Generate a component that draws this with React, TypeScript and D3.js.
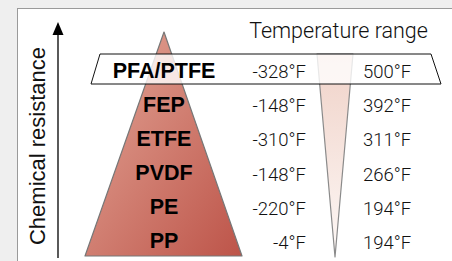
import { useEffect, useRef } from 'react';
import * as d3 from 'd3';

const polymers = ['PFA/PTFE', 'FEP', 'ETFE', 'PVDF', 'PE', 'PP'];
const lowTemps = [-328, -148, -310, -148, -220, -4];
const highTemps = [500, 392, 311, 266, 194, 194];
const axisTitle = 'Chemical resistance';
const tempTitle = 'Temperature range';

const W = 452;
const H = 261;
const SANS = '"Liberation Sans", Arial, sans-serif';
const LIGHT = 'Roboto, "Liberation Sans", sans-serif';

function App() {
  const svgRef = useRef<SVGSVGElement | null>(null);

  useEffect(() => {
    const svg = d3.select(svgRef.current);
    svg.selectAll('*').remove();

    const y = d3.scaleBand().domain(polymers).range([53, 258]);
    const x = d3.scaleLinear().domain([0, 1]).range([85, 242]); // pyramid base
    const top = y(polymers[0])!;
    const bottom = 256;

    const defs = svg.append('defs');
    const grad = defs
      .append('linearGradient')
      .attr('id', 'pyr')
      .attr('x1', '0%')
      .attr('y1', '0%')
      .attr('x2', '100%')
      .attr('y2', '100%');
    grad.append('stop').attr('offset', '0%').attr('stop-color', '#e4a899');
    grad.append('stop').attr('offset', '100%').attr('stop-color', '#bd5449');

    const tgrad = defs
      .append('linearGradient')
      .attr('id', 'temp')
      .attr('x1', '0%')
      .attr('y1', '0%')
      .attr('x2', '0%')
      .attr('y2', '100%');
    tgrad.append('stop').attr('offset', '0%').attr('stop-color', '#f0d2c8');
    tgrad.append('stop').attr('offset', '100%').attr('stop-color', '#fdf8f6');

    // background
    svg.append('rect').attr('width', W).attr('height', H).attr('fill', '#efefef');
    svg
      .append('rect')
      .attr('x', 17.5)
      .attr('y', 8.5)
      .attr('width', W)
      .attr('height', H)
      .attr('fill', '#fff')
      .attr('stroke', '#9a9a9a')
      .attr('stroke-width', 1);

    // arrow
    svg
      .append('line')
      .attr('x1', 58)
      .attr('x2', 58)
      .attr('y1', 30)
      .attr('y2', 258)
      .attr('stroke', '#000')
      .attr('stroke-width', 1.3);
    svg
      .append('path')
      .attr('d', 'M58,22 L52.5,35 L63.5,35 Z')
      .attr('fill', '#000');

    svg
      .append('text')
      .attr('transform', `translate(45,146) rotate(-90)`)
      .attr('text-anchor', 'middle')
      .attr('font-family', SANS)
      .attr('font-size', 22)
      .attr('fill', '#111')
      .text(axisTitle);

    // pyramid
    const apexX = (x(0) + x(1)) / 2 + 0.5;
    svg
      .append('path')
      .attr('d', `M${apexX},32 L${x(1)},${bottom} L${x(0)},${bottom} Z`)
      .attr('fill', 'url(#pyr)')
      .attr('stroke', '#777')
      .attr('stroke-width', 1.2)
      .attr('stroke-linejoin', 'round');

    // temperature wedge
    svg
      .append('path')
      .attr('d', `M317,${top + 1} L353,${top + 1} L335,${bottom + 1} Z`)
      .attr('fill', 'url(#temp)')
      .attr('stroke', '#8a8a8a')
      .attr('stroke-width', 1.2)
      .attr('stroke-linejoin', 'round');

    // highlighted row
    const rTop = top + 1;
    const rBot = 84;
    svg
      .append('path')
      .attr('d', `M100,${rTop} L431,${rTop} L441,${rBot} L91,${rBot} Z`)
      .attr('fill', '#fff')
      .attr('fill-opacity', 0.8)
      .attr('stroke', '#111')
      .attr('stroke-width', 1);

    const rows = svg
      .selectAll('g.row')
      .data(polymers)
      .enter()
      .append('g')
      .attr('class', 'row')
      .attr('transform', (d) => `translate(0,${y(d)! + y.bandwidth() / 2})`);

    rows
      .append('text')
      .attr('x', apexX)
      .attr('y', 7.5)
      .attr('text-anchor', 'middle')
      .attr('font-family', SANS)
      .attr('font-size', 21.5)
      .attr('font-weight', 700)
      .attr('fill', '#000')
      .text((d) => d);

    rows
      .append('text')
      .attr('x', 306)
      .attr('y', 8)
      .attr('text-anchor', 'end')
      .attr('font-family', LIGHT)
      .attr('font-size', 18.5)
      .attr('font-weight', 300)
      .attr('fill', '#111')
      .text((_, i) => `${lowTemps[i]}°F`);

    rows
      .append('text')
      .attr('x', 363)
      .attr('y', 8)
      .attr('text-anchor', 'start')
      .attr('font-family', LIGHT)
      .attr('font-size', 18.5)
      .attr('font-weight', 300)
      .attr('fill', '#111')
      .text((_, i) => `${highTemps[i]}°F`);

    svg
      .append('text')
      .attr('x', 338.5)
      .attr('y', 37.5)
      .attr('text-anchor', 'middle')
      .attr('font-family', LIGHT)
      .attr('font-size', 21.5)
      .attr('font-weight', 300)
      .attr('fill', '#111')
      .text(tempTitle);
  }, []);

  return (
    <svg
      ref={svgRef}
      width={W}
      height={H}
      style={{ position: 'absolute', left: 0, top: 0, display: 'block' }}
    />
  );
}

export default App;
